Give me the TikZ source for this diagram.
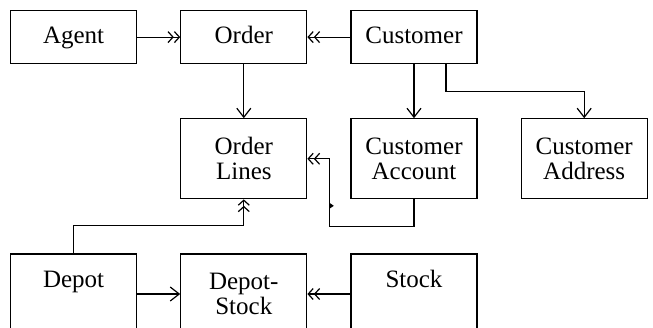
\documentclass[tikz,border=0pt]{standalone}
\usepackage{fontspec}
\setmainfont{Liberation Serif}
\usetikzlibrary{positioning, arrows.meta}

\begin{document}
\begin{tikzpicture}[
	entity/.style={rectangle, draw, line width=0.6pt, inner sep=0pt, minimum width=63pt, minimum height=26.5pt, align=center, text height=8.5pt, text depth=2.6pt, font=\fontsize{12.5pt}{12.5pt}\selectfont},
	entity tall/.style={entity, minimum height=40pt, text height=, text depth=},
	entity low/.style={entity, minimum height=40pt, text depth=15.5pt},
	to one/.style={line width=0.6pt, -{Straight Barb[length=4.5pt,width=7pt]}},
	to many/.style={line width=0.6pt, -{Straight Barb[length=2.5pt,width=5.5pt]Straight Barb[length=2.5pt,width=5.5pt]}},
	node distance=27pt and 21.5pt
]

\path[use as bounding box, clip] (0,0) rectangle (326.5pt,-163.5pt);

\node[entity, anchor=north west] (agent) at (5pt,-5pt) {Agent};
\node[entity, right=of agent] (order) {Order};
\node[entity, right=of order] (customer) {Customer};

\node[entity tall, below=of order] (orderlines) {Order\\Lines};
\node[entity tall, below=of customer] (account) {Customer\\Account};
\node[entity tall, right=of account] (address) {Customer\\Address};

\node[entity tall, below=of orderlines] (depotstock) {Depot-\\Stock};
\node[entity low, left=of depotstock] (depot) {Depot};
\node[entity low, right=of depotstock] (stock) {Stock};

% top row
\draw[to many] (agent) -- (order);
\draw[to many] (customer) -- (order);
\draw[to one] (order) -- (orderlines);
\draw[to one] (customer) -- (account);
\draw[to one] ([xshift=16pt]customer.south) -- ++(0,-13.5pt) -| (address.north);

% into order lines
\draw[to many] (account.south) -- ++(0,-13.5pt) -| ([xshift=11pt]orderlines.east) coordinate (jog) -- (orderlines.east);
\fill ([yshift=-22pt]jog) -- ++(2.2pt,-1.5pt) -- ++(-2.2pt,-1.5pt) -- cycle;
\draw[to many] (depot.north) -- ++(0,14pt) -| (orderlines.south);

% bottom row
\draw[to one] (depot) -- (depotstock);
\draw[to many] (stock) -- (depotstock);

\end{tikzpicture}
\end{document}
